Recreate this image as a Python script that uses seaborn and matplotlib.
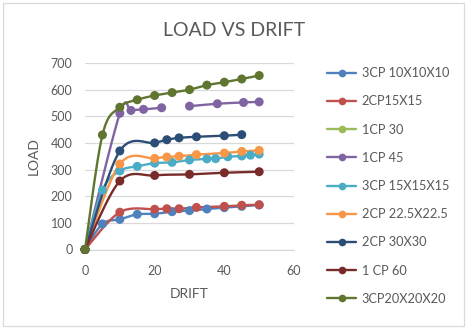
import numpy as np
import pandas as pd
import matplotlib
matplotlib.use("Agg")
import matplotlib.pyplot as plt
import seaborn as sns
from matplotlib.lines import Line2D
from matplotlib.patches import Rectangle

# ---- data ----
series_names = ["3CP 10X10X10", "2CP15X15", "1CP 30", "1CP 45", "3CP 15X15X15",
                "2CP 22.5X22.5", "2CP 30X30", "1 CP 60", "3CP20X20X20"]
colors = ["#4F81BD", "#C0504D", "#9BBB59", "#8064A2", "#4BACC6",
          "#F79646", "#2C4D75", "#772C2A", "#5F7530"]

x_3cp10 = [0, 5, 10, 15, 20, 25, 30, 35, 40, 45, 50]
y_3cp10 = [0, 96, 113, 132, 134, 142, 146, 152, 157, 162, 167]

x_2cp15 = [0, 10, 20, 23.5, 27, 32, 40, 45, 50]
y_2cp15 = [0, 140, 151, 153, 153, 158, 162, 166, 168]

x_1cp30 = []
y_1cp30 = []

x_1cp45 = [0, 10, 13.2, 16.8, 22, 26, 30, 38, 45.5, 50]
y_1cp45 = [0, 511, 522, 526, 532, np.nan, 538, 547, 552, 554]

x_3cp15 = [0, 5, 10, 15, 20, 25, 30, 35, 37.5, 41, 45, 47.5, 50]
y_3cp15 = [0, 223, 295, 312, 324, 327, 336, 340, 341, 348, 351, 354, 358]

x_2cp225 = [0, 10, 20, 23.5, 27, 32, 40, 45, 50]
y_2cp225 = [0, 321, 342, 347, 350, 356, 362, 368, 372]

x_2cp30 = [0, 10, 20, 23.5, 27, 32, 40, 45]
y_2cp30 = [0, 370, 400, 412, 419, 423, 427, 431]

x_1cp60 = [0, 10, 20, 30, 40, 50]
y_1cp60 = [0, 257, 278, 282, 288, 292]

x_3cp20 = [0, 5, 10, 15, 20, 25, 30, 35, 40, 45, 50]
y_3cp20 = [0, 430, 534, 562, 578, 589, 600, 617, 628, 640, 653]

xs = [x_3cp10, x_2cp15, x_1cp30, x_1cp45, x_3cp15, x_2cp225, x_2cp30, x_1cp60, x_3cp20]
ys = [y_3cp10, y_2cp15, y_1cp30, y_1cp45, y_3cp15, y_2cp225, y_2cp30, y_1cp60, y_3cp20]

x_ticks = [0, 20, 40, 60]
y_ticks = [0, 100, 200, 300, 400, 500, 600, 700]


def smooth(px, py, n=20):
    """Excel-like smoothed line (Catmull-Rom Bezier) through the given points."""
    px = np.asarray(px, float)
    py = np.asarray(py, float)
    if len(px) < 3:
        return px, py
    P = np.column_stack([px, py])
    out = []
    t = np.linspace(0, 1, n)[:, None]
    for i in range(len(P) - 1):
        p0 = P[i - 1] if i > 0 else P[i]
        p1 = P[i]
        p2 = P[i + 1]
        p3 = P[i + 2] if i + 2 < len(P) else P[i + 1]
        c1 = p1 + (p2 - p0) / 6.0
        c2 = p2 - (p3 - p1) / 6.0
        seg = ((1 - t) ** 3) * p1 + 3 * ((1 - t) ** 2) * t * c1 + 3 * (1 - t) * t ** 2 * c2 + t ** 3 * p2
        out.append(seg if i == 0 else seg[1:])
    out = np.vstack(out)
    return out[:, 0], out[:, 1]


sns.set_theme(style="white")
plt.rcParams["font.family"] = ["Lato", "DejaVu Sans"]
text_color = "#595959"

fig = plt.figure(figsize=(4.68, 3.33), dpi=100)
ax = fig.add_axes([85 / 468, 1 - 249.5 / 333, (294 - 85) / 468, (249.5 - 63) / 333])

rows = []
for name, xv, yv in zip(series_names, xs, ys):
    for a, b in zip(xv, yv):
        rows.append({"series": name, "DRIFT": a, "LOAD": b})
df = pd.DataFrame(rows)

for name, col, xv, yv in zip(series_names, colors, xs, ys):
    if len(xv) == 0:
        continue
    xv = np.asarray(xv, float)
    yv = np.asarray(yv, float)
    # split at gaps
    valid = ~np.isnan(yv)
    segs, cur = [], []
    for i in range(len(xv)):
        if valid[i]:
            cur.append(i)
        else:
            if cur:
                segs.append(cur)
            cur = []
    if cur:
        segs.append(cur)
    for s in segs:
        sx, sy = smooth(xv[s], yv[s])
        ax.plot(sx, sy, color=col, lw=1.7, solid_capstyle="round", clip_on=False, zorder=2)

sns.scatterplot(data=df.dropna(), x="DRIFT", y="LOAD", hue="series",
                hue_order=series_names, palette=dict(zip(series_names, colors)),
                s=42, edgecolor="none", linewidth=0, ax=ax, legend=False,
                clip_on=False, zorder=3)

ax.set_xlim(0, 60)
ax.set_ylim(0, 700)
ax.set_xticks(x_ticks)
ax.set_yticks(y_ticks)
ax.yaxis.grid(True, color="#D9D9D9", lw=0.9)
ax.xaxis.grid(False)
ax.set_axisbelow(True)
for sp in ["top", "right", "left"]:
    ax.spines[sp].set_visible(False)
ax.spines["bottom"].set_color("#D9D9D9")
ax.spines["bottom"].set_linewidth(0.9)
ax.tick_params(axis="both", length=0, colors=text_color, labelsize=9)
ax.tick_params(axis="y", pad=9)
ax.tick_params(axis="x", pad=11)
ax.set_xlabel("DRIFT", color=text_color, fontsize=10, labelpad=8)
ax.set_ylabel("LOAD", color=text_color, fontsize=10, labelpad=8)
fig.text(234 / 468, 1 - 30 / 333, "LOAD VS DRIFT", ha="center", va="center",
         color=text_color, fontsize=14)

handles = [Line2D([0], [0], color=c, lw=1.7, marker="o", markersize=5.5,
                  markeredgewidth=0) for c in colors]
fig.legend(handles, series_names, loc="upper left",
           bbox_to_anchor=(322 / 468, 1 - 62 / 333), frameon=False,
           fontsize=9.2, labelcolor=text_color, handlelength=2.3,
           handletextpad=0.4, labelspacing=1.27, borderaxespad=0)

fig.patches.append(Rectangle((3 / 468, 1 - 326 / 333), 461 / 468, 323 / 333,
                             transform=fig.transFigure, fill=False,
                             edgecolor="#D9D9D9", lw=0.9))

fig.savefig("out.png", dpi=100)
